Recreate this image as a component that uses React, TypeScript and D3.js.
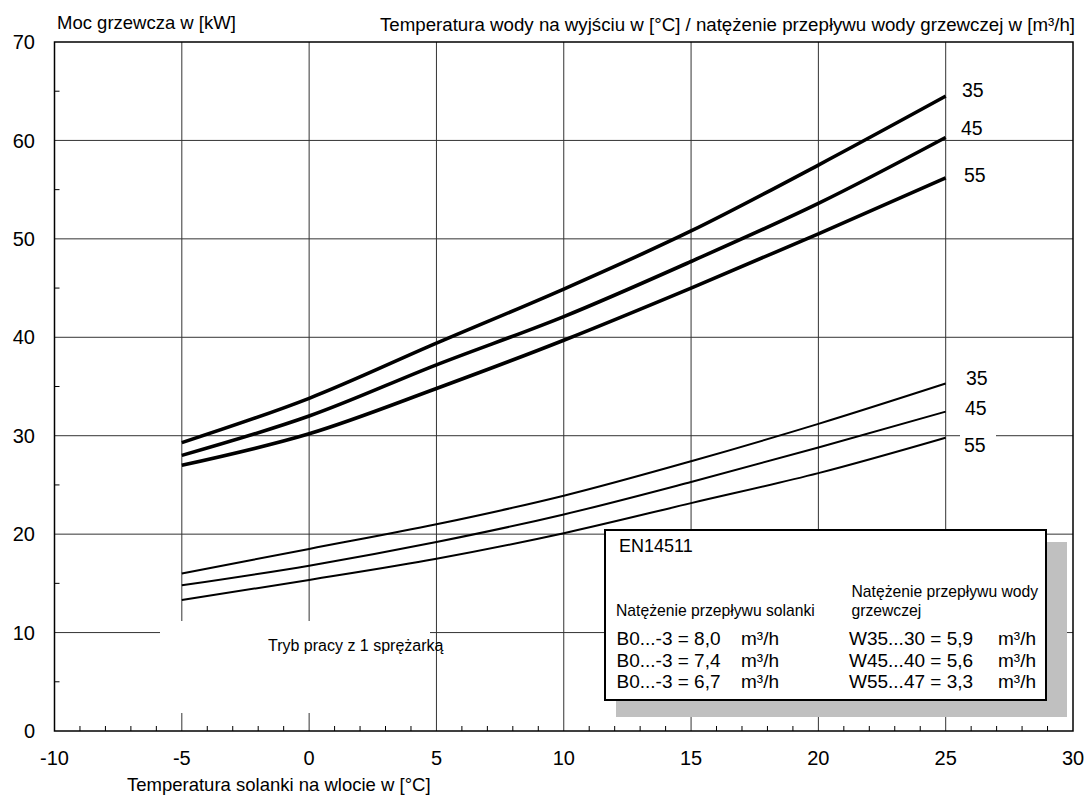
import React from "react";
import * as d3 from "d3";

// ---- data ----
const brineTemps = [-5, 0, 5, 10, 15, 20, 25];
const heat35 = [29.3, 33.8, 39.4, 44.9, 50.8, 57.5, 64.5];
const heat45 = [28.0, 32.0, 37.2, 42.1, 47.7, 53.6, 60.3];
const heat55 = [27.0, 30.2, 34.8, 39.7, 45.0, 50.5, 56.2];
const flow35 = [16.0, 18.5, 21.0, 23.9, 27.4, 31.2, 35.3];
const flow45 = [14.8, 16.8, 19.2, 22.0, 25.3, 28.8, 32.45];
const flow55 = [13.3, 15.35, 17.5, 20.1, 23.15, 26.2, 29.8];
const curveLabels = ["35", "45", "55"];

const xTicks = [-10, -5, 0, 5, 10, 15, 20, 25, 30];
const yTicks = [0, 10, 20, 30, 40, 50, 60, 70];

const legendTitle = "EN14511";
const brineHeader = "Natężenie przepływu solanki";
const waterHeader = ["Natężenie przepływu wody", "grzewczej"];
const brineFlows = ["B0...-3 = 8,0", "B0...-3 = 7,4", "B0...-3 = 6,7"];
const waterFlows = ["W35...30 = 5,9", "W45...40 = 5,6", "W55...47 = 3,3"];
const flowUnit = "m³/h";

const yTitle = "Moc grzewcza w [kW]";
const topTitle = "Temperatura wody na wyjściu w [°C] / natężenie przepływu wody grzewczej w [m³/h]";
const xTitle = "Temperatura solanki na wlocie w [°C]";
const modeNote = "Tryb pracy z 1 sprężarką";

const FONT = "'Liberation Sans', Arial, sans-serif";

export default function App() {
  const x = d3.scaleLinear().domain([-10, 30]).range([54.5, 1073]);
  const y = d3.scaleLinear().domain([0, 70]).range([731, 42]);
  const line = d3
    .line<number>()
    .x((_, i) => x(brineTemps[i]))
    .y((d) => y(d))
    .curve(d3.curveMonotoneX);

  const thick = [heat35, heat45, heat55];
  const thin = [flow35, flow45, flow55];
  const thickLabelPos = [
    { x: 962, y: 97 },
    { x: 961, y: 135 },
    { x: 964, y: 182 },
  ];
  const thinLabelPos = [
    { x: 966, y: 385 },
    { x: 965, y: 415 },
    { x: 964, y: 452 },
  ];

  const gridX = xTicks.filter((t) => t > -10 && t < 30);
  const gridY = yTicks.filter((t) => t > 0 && t < 70);
  const minorX = d3.range(-9, 30).filter((t) => t % 5 !== 0);
  const minorY = d3.range(5, 70, 10);

  const gridColor = "#333";

  return (
    <svg
      width={1089}
      height={795}
      style={{ position: "absolute", left: 0, top: 0, background: "#fff" }}
      fontFamily={FONT}
    >
      <rect x={0} y={0} width={1089} height={795} fill="#fff" />
      {/* grid */}
      {gridX.map((t) => (
        <line key={"gx" + t} x1={x(t)} x2={x(t)} y1={y(0)} y2={y(70)} stroke={gridColor} strokeWidth={1} />
      ))}
      {gridY.map((t) => (
        <line key={"gy" + t} x1={x(-10)} x2={x(30)} y1={y(t)} y2={y(t)} stroke={gridColor} strokeWidth={1} />
      ))}
      {/* minor ticks */}
      {minorX.map((t) => (
        <line key={"mx" + t} x1={x(t)} x2={x(t)} y1={y(0)} y2={y(0) - 5} stroke="#000" strokeWidth={1} />
      ))}
      {minorY.map((t) => (
        <line key={"my" + t} x1={x(-10)} x2={x(-10) + 5} y1={y(t)} y2={y(t)} stroke="#000" strokeWidth={1} />
      ))}
      {/* frame */}
      <rect
        x={x(-10)}
        y={y(70)}
        width={x(30) - x(-10)}
        height={y(0) - y(70)}
        fill="none"
        stroke="#000"
        strokeWidth={1.5}
      />
      {/* white gaps behind notes */}
      <rect x={160} y={621} width={270} height={92} fill="#fff" />
      <rect x={960} y={430} width={36} height={14} fill="#fff" />

      {/* curves */}
      {thin.map((s, i) => (
        <path key={"thin" + i} d={line(s) || ""} fill="none" stroke="#000" strokeWidth={2} />
      ))}
      {thick.map((s, i) => (
        <path key={"thick" + i} d={line(s) || ""} fill="none" stroke="#000" strokeWidth={3.6} />
      ))}
      {curveLabels.map((l, i) => (
        <text key={"tl" + i} x={thickLabelPos[i].x} y={thickLabelPos[i].y} fontSize={19.5} fill="#000">
          {l}
        </text>
      ))}
      {curveLabels.map((l, i) => (
        <text key={"bl" + i} x={thinLabelPos[i].x} y={thinLabelPos[i].y} fontSize={19.5} fill="#000">
          {l}
        </text>
      ))}

      {/* mode note */}
      <text x={268} y={651} fontSize={16} fill="#000">
        {modeNote}
      </text>

      {/* legend box */}
      <rect x={616} y={542} width={451} height={175} fill="#c0c0c0" />
      <rect x={605} y={530} width={441} height={170} fill="#fff" stroke="#000" strokeWidth={2} />
      <text x={619} y={552} fontSize={18} fill="#000">
        {legendTitle}
      </text>
      <text x={616} y={615.5} fontSize={15.7} fill="#000">
        {brineHeader}
      </text>
      <text x={851.5} y={597} fontSize={15.7} fill="#000">
        {waterHeader[0]}
      </text>
      <text x={851.5} y={616} fontSize={15.7} fill="#000">
        {waterHeader[1]}
      </text>
      {brineFlows.map((b, i) => (
        <g key={"lr" + i}>
          <text x={616.5} y={645 + i * 21.7} fontSize={19} fill="#000">
            {b}
          </text>
          <text x={741} y={645 + i * 21.7} fontSize={19} fill="#000">
            {flowUnit}
          </text>
          <text x={849} y={645 + i * 21.7} fontSize={19} fill="#000">
            {waterFlows[i]}
          </text>
          <text x={998} y={645 + i * 21.7} fontSize={19} fill="#000">
            {flowUnit}
          </text>
        </g>
      ))}

      {/* axis tick labels */}
      {yTicks.map((t) => (
        <text key={"yl" + t} x={35} y={y(t)} dy="0.36em" textAnchor="end" fontSize={20} fill="#000">
          {t}
        </text>
      ))}
      {xTicks.map((t) => (
        <text key={"xl" + t} x={x(t)} y={765} textAnchor="middle" fontSize={20} fill="#000">
          {t}
        </text>
      ))}

      {/* titles */}
      <text x={57} y={29} fontSize={18.5} fill="#000">
        {yTitle}
      </text>
      <text x={1075} y={30.5} textAnchor="end" fontSize={18.7} fill="#000">
        {topTitle}
      </text>
      <text x={127} y={791} fontSize={18.5} fill="#000">
        {xTitle}
      </text>
    </svg>
  );
}
